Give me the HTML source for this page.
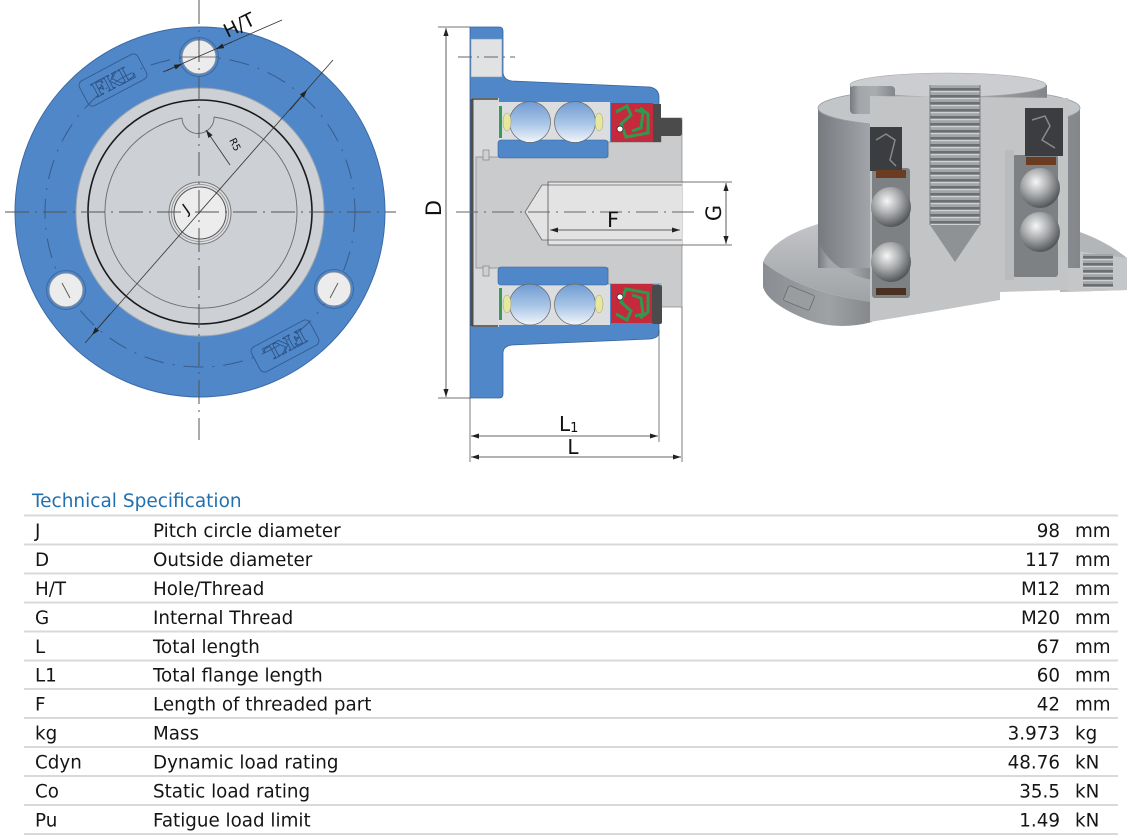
<!DOCTYPE html>
<html><head><meta charset="utf-8">
<style>
html,body{margin:0;padding:0;background:#fff;}
svg{display:block;}
.t{font-family:"DejaVu Sans","Liberation Sans",sans-serif;font-size:18.3px;fill:#151515;}
.d{font-family:"DejaVu Sans","Liberation Sans",sans-serif;fill:#111;}
</style></head><body>
<svg width="1134" height="839" viewBox="0 0 1134 839" xmlns="http://www.w3.org/2000/svg">
<defs>
<marker id="a" viewBox="0 0 10 10" refX="10" refY="5" markerUnits="userSpaceOnUse" markerWidth="8" markerHeight="8" orient="auto-start-reverse"><path d="M0,1.8 L10,5 L0,8.2 z" fill="#222"/></marker>
<linearGradient id="ball" x1="0" y1="0" x2="0" y2="1"><stop offset="0" stop-color="#6f9bd2"/><stop offset=".55" stop-color="#abc7e7"/><stop offset="1" stop-color="#f2f6fb"/></linearGradient>
<linearGradient id="gBody" x1="0" y1="0" x2="1" y2="0"><stop offset="0" stop-color="#777a7e"/><stop offset=".2" stop-color="#a2a5a9"/><stop offset=".55" stop-color="#aaadb0"/><stop offset="1" stop-color="#83868a"/></linearGradient>
<linearGradient id="gTop" x1="0" y1="0" x2="0" y2="1"><stop offset="0" stop-color="#c4c6c9"/><stop offset="1" stop-color="#a0a3a6"/></linearGradient>
<linearGradient id="gRim" x1="0" y1="0" x2="1" y2="0"><stop offset="0" stop-color="#8a8d91"/><stop offset=".6" stop-color="#9fa2a5"/><stop offset="1" stop-color="#85888b"/></linearGradient>
<radialGradient id="gBall" cx=".4" cy=".35" r=".65"><stop offset="0" stop-color="#f6f6f6"/><stop offset=".5" stop-color="#a9abad"/><stop offset="1" stop-color="#55585b"/></radialGradient>
<pattern id="thr" width="10" height="7" patternUnits="userSpaceOnUse"><rect width="10" height="7" fill="#a3a6a9"/><rect y="4" width="10" height="2.5" fill="#6c6f72"/><rect y="0" width="10" height="1.2" fill="#cfd1d3"/></pattern>
</defs>

<!-- ============ FRONT VIEW ============ -->
<g>
<circle cx="200" cy="212" r="185" fill="#5087c8" stroke="#3a6aa8"/>
<circle cx="200" cy="212" r="155" fill="none" stroke="#2f4d74" stroke-width="1" stroke-dasharray="20 9 2 9" opacity=".75"/>
<g transform="translate(113,80) rotate(-28)">
<rect x="-33" y="-14" width="66" height="28" rx="5" fill="none" stroke="#2f5a92" stroke-width=".9"/>
<text x="0" y="8" text-anchor="middle" font-family="Liberation Serif,serif" font-size="22" font-weight="bold" fill="none" stroke="#2a4f80" stroke-width=".8">FKL</text>
</g>
<g transform="translate(285,346) rotate(152)">
<rect x="-33" y="-14" width="66" height="28" rx="5" fill="none" stroke="#2f5a92" stroke-width=".9"/>
<text x="0" y="8" text-anchor="middle" font-family="Liberation Serif,serif" font-size="22" font-weight="bold" fill="none" stroke="#2a4f80" stroke-width=".8">FKL</text>
</g>
<circle cx="200" cy="212" r="124" fill="#cdd0d4" stroke="#9aa3ad"/>
<circle cx="200" cy="212" r="112" fill="none" stroke="#1a1a1a" stroke-width="1.6"/>
<path d="M182,118 A96,96 0 1 0 214,117" fill="none" stroke="#6a6a6a" stroke-width=".9"/>
<path d="M182,118 A16,16 0 0 0 214,117" fill="none" stroke="#6a6a6a" stroke-width=".9"/>
<g fill="none" stroke="#3c6aa4" stroke-width="1"><circle cx="199" cy="57" r="19.5"/><circle cx="66" cy="290" r="19.5"/><circle cx="334" cy="289" r="19.5"/></g>
<g fill="#ececec" stroke="#7c8b9c"><circle cx="199" cy="57" r="17"/><circle cx="66" cy="290" r="17"/><circle cx="334" cy="289" r="17"/></g>
<line x1="62" y1="283" x2="70" y2="298" stroke="#555" stroke-width=".9"/>
<line x1="338" y1="283" x2="330" y2="298" stroke="#555" stroke-width=".9"/>
<line x1="180" y1="57" x2="218" y2="57" stroke="#555" stroke-width=".8"/>
<circle cx="200" cy="213" r="31" fill="#dcdee1" stroke="#777"/>
<circle cx="200" cy="213" r="28.5" fill="none" stroke="#888" stroke-width=".8"/>
<circle cx="200" cy="213" r="26" fill="#ececec" stroke="#555"/>
<line x1="199" y1="0" x2="199" y2="440" stroke="#555" stroke-width="1" stroke-dasharray="24 6 2 6"/>
<line x1="5" y1="212" x2="396" y2="212" stroke="#555" stroke-width="1" stroke-dasharray="24 6 2 6"/>
<line x1="85" y1="343" x2="333" y2="60" stroke="#333" stroke-width=".8"/>
<line x1="110" y1="314" x2="92" y2="335" stroke="#333" stroke-width=".8" marker-end="url(#a)"/>
<line x1="290" y1="110" x2="307" y2="90" stroke="#333" stroke-width=".8" marker-end="url(#a)"/>
<text transform="translate(189,213) rotate(-35)" class="d" font-size="15" text-anchor="middle">J</text>
<line x1="163" y1="72" x2="282" y2="20" stroke="#333" stroke-width=".8"/>
<line x1="166" y1="71" x2="182" y2="64" stroke="#333" stroke-width=".8" marker-end="url(#a)"/>
<line x1="232" y1="42" x2="216" y2="49" stroke="#333" stroke-width=".8" marker-end="url(#a)"/>
<text transform="translate(242,31) rotate(-26)" class="d" font-size="19" text-anchor="middle">H/T</text>
<line x1="230" y1="165" x2="206" y2="130" stroke="#333" stroke-width=".8" marker-end="url(#a)"/>
<text transform="translate(232,146) rotate(63)" class="d" font-size="10" text-anchor="middle">R5</text>
</g>

<!-- ============ SECTION VIEW ============ -->
<g>
<path d="M470,27 L499,27 Q503,27 503,31 L503,73 Q504,80 512,81 L650,87 Q659,89 659,97 L659,332 Q659,338 650,339 L512,345 Q504,346 503,352 L503,394 Q503,398 499,398 L470,398 Z" fill="#5087c8" stroke="#35639c" stroke-width=".8"/>
<rect x="471" y="39" width="31" height="38" fill="#e1e2e3" stroke="#8a9aae" stroke-width=".6"/>
<line x1="458" y1="57" x2="515" y2="57" stroke="#666" stroke-width=".9" stroke-dasharray="14 5 2 5"/>
<rect x="472" y="98" width="27" height="229" fill="#d8d9da"/>
<rect x="470.5" y="99" width="3" height="227" fill="#4e4e4e"/>
<line x1="472" y1="99" x2="498" y2="99" stroke="#444" stroke-width="1.5"/>
<line x1="472" y1="326" x2="498" y2="326" stroke="#444" stroke-width="1.5"/>
<rect x="498" y="102" width="112" height="40" fill="#dcdddf"/>
<rect x="498" y="284" width="112" height="41" fill="#dcdddf"/>
<path d="M476,157 L608,157 L608,142 L661,142 L661,118 L682,118 L682,307 L661,307 L661,284 L608,284 L608,268 L476,268 Z" fill="#cacbcd" stroke="#888" stroke-width=".7"/>
<rect x="483" y="150" width="6" height="10" fill="#d0d0d0" stroke="#777" stroke-width=".6"/>
<rect x="483" y="266" width="6" height="10" fill="#d0d0d0" stroke="#777" stroke-width=".6"/>
<rect x="498" y="140" width="110" height="18" rx="3" fill="#5087c8" stroke="#35639c" stroke-width=".6"/>
<rect x="498" y="267" width="110" height="18" rx="3" fill="#5087c8" stroke="#35639c" stroke-width=".6"/>
<g fill="url(#ball)" stroke="#666" stroke-width=".7">
<circle cx="530" cy="122" r="20.5"/><circle cx="575" cy="122" r="20.5"/>
<circle cx="530" cy="304.5" r="20.5"/><circle cx="575" cy="304.5" r="20.5"/>
</g>
<g fill="#e8e89a" stroke="#999" stroke-width=".5">
<ellipse cx="507" cy="122" rx="4" ry="9"/><ellipse cx="599" cy="122" rx="4" ry="9"/>
<ellipse cx="507" cy="304" rx="4" ry="9"/><ellipse cx="599" cy="304" rx="4" ry="9"/>
</g>
<rect x="499" y="106" width="3" height="32" fill="#3a9a55"/>
<rect x="499" y="288" width="3" height="32" fill="#3a9a55"/>
<g id="seal">
<rect x="611" y="103" width="42" height="39" fill="#c42a3c"/>
<path d="M616,112 L627,106 L631,115 L621,124 L626,137 L648,133 L648,114 L640,108 M635,110 L643,112 L641,128 L632,131" fill="none" stroke="#2e9a50" stroke-width="3"/>
<circle cx="620" cy="129" r="3" fill="#fff" stroke="#222" stroke-width=".7"/>
</g>
<use href="#seal" transform="translate(0,426) scale(1,-1)"/>
<path d="M653,104 L661,104 L661,118 L680,118 Q682,118 682,121 L682,133 Q682,136 679,136 L661,136 L661,142 L653,142 Z" fill="#4b4b4b"/>
<rect x="652" y="285" width="10" height="39" rx="2" fill="#4b4b4b"/>
<rect x="548" y="182" width="134" height="63" fill="#e3e3e3"/>
<path d="M548,185 L542,185 L525,212 L542,240 L548,240 Z" fill="#e3e3e3"/>
<path d="M682,185 L542,185 L525,212 L542,240 L682,240" fill="none" stroke="#666" stroke-width=".8"/>
<path d="M682,182 L548,182 L548,245 L682,245" fill="none" stroke="#555" stroke-width=".8"/>
<line x1="456" y1="212" x2="700" y2="212" stroke="#666" stroke-width=".9" stroke-dasharray="22 6 2 6"/>
<line x1="438" y1="27" x2="470" y2="27" stroke="#444" stroke-width=".7"/>
<line x1="438" y1="398" x2="470" y2="398" stroke="#444" stroke-width=".7"/>
<line x1="446" y1="28" x2="446" y2="397" stroke="#333" stroke-width=".8" marker-start="url(#a)" marker-end="url(#a)"/>
<text transform="translate(441,208) rotate(-90)" class="d" font-size="21" text-anchor="middle">D</text>
<line x1="550" y1="230" x2="680" y2="230" stroke="#333" stroke-width=".8" marker-start="url(#a)" marker-end="url(#a)"/>
<text x="613" y="227" class="d" font-size="21" text-anchor="middle">F</text>
<line x1="682" y1="182" x2="732" y2="182" stroke="#444" stroke-width=".7"/>
<line x1="682" y1="245" x2="732" y2="245" stroke="#444" stroke-width=".7"/>
<line x1="726" y1="183" x2="726" y2="244" stroke="#333" stroke-width=".8" marker-start="url(#a)" marker-end="url(#a)"/>
<text transform="translate(721,213) rotate(-90)" class="d" font-size="21" text-anchor="middle">G</text>
<line x1="470" y1="398" x2="470" y2="462" stroke="#444" stroke-width=".7"/>
<line x1="659" y1="330" x2="659" y2="442" stroke="#444" stroke-width=".7"/>
<line x1="682" y1="307" x2="682" y2="462" stroke="#444" stroke-width=".7"/>
<line x1="471" y1="436" x2="658" y2="436" stroke="#333" stroke-width=".8" marker-start="url(#a)" marker-end="url(#a)"/>
<line x1="471" y1="457" x2="681" y2="457" stroke="#333" stroke-width=".8" marker-start="url(#a)" marker-end="url(#a)"/>
<text x="559" y="431" class="d" font-size="20">L<tspan font-size="13" dy="1">1</tspan></text>
<text x="573" y="454" class="d" font-size="20" text-anchor="middle">L</text>
</g>

<!-- ============ 3D VIEW ============ -->
<g>
<!-- left flange: top surface and rim -->
<path d="M763,262 Q772,238 818,224 L872,220 L872,302 Q800,292 763,262 Z" fill="url(#gTop)"/>
<path d="M763,262 Q800,292 872,302 L872,322 Q838,331 808,320 Q768,304 763,287 Z" fill="url(#gRim)"/>
<rect x="785" y="290" width="28" height="16" rx="2" transform="rotate(22 799 298)" fill="#9a9da0" stroke="#6a6d70" stroke-width=".8"/>
<!-- right flange -->
<path d="M1060,226 Q1100,236 1127,258 L1127,290 L1060,292 Z" fill="#b3b6b9"/>
<path d="M1068,250 L1127,258 L1127,290 L1068,292 Z" fill="#c4c6c8"/>
<rect x="1083" y="254" width="30" height="34" fill="url(#thr)"/>
<!-- body -->
<rect x="818" y="108" width="262" height="160" fill="url(#gBody)"/>
<path d="M818,240 Q830,272 872,280 L872,268 L818,268 Z" fill="url(#gBody)"/>
<ellipse cx="949" cy="108" rx="131" ry="20" fill="#c3c6c9" stroke="#9a9da0" stroke-width=".8"/>
<rect x="850" y="85" width="197" height="16" fill="url(#gBody)"/>
<ellipse cx="948" cy="85" rx="98" ry="12" fill="#cbcdd0" stroke="#a3a6a9" stroke-width=".6"/>
<rect x="850" y="86" width="45" height="28" rx="4" fill="url(#gBody)"/>
<!-- cut face -->
<path d="M870,96 L1068,98 L1068,290 L1000,292 L1000,300 L930,312 L870,322 Z" fill="#c2c4c6"/>
<!-- left bearing -->
<rect x="872" y="168" width="38" height="130" rx="3" fill="#7e8184"/>
<rect x="870" y="127" width="32" height="44" fill="#3b3d40"/>
<path d="M876,140 L886,134 L895,140 L890,160 L896,166" fill="none" stroke="#888" stroke-width="1.5"/>
<rect x="876" y="170" width="30" height="8" fill="#6b3b22"/>
<rect x="876" y="288" width="30" height="7" fill="#4a3022"/>
<circle cx="891" cy="207" r="20" fill="url(#gBall)"/>
<circle cx="891" cy="262" r="20" fill="url(#gBall)"/>
<!-- thread -->
<rect x="930" y="85" width="50" height="140" fill="url(#thr)"/>
<path d="M930,225 L980,225 L955,262 Z" fill="#8f9295"/>
<line x1="930" y1="85" x2="930" y2="225" stroke="#7a7d80"/>
<line x1="980" y1="85" x2="980" y2="225" stroke="#7a7d80"/>
<!-- right bearing -->
<rect x="1012" y="155" width="46" height="122" rx="3" fill="#7e8184"/>
<rect x="1025" y="108" width="38" height="48" fill="#3b3d40"/>
<path d="M1032,120 L1045,116 L1050,126 L1042,140 L1055,148" fill="none" stroke="#8a8a8a" stroke-width="1.5"/>
<rect x="1026" y="157" width="30" height="8" fill="#6b3b22"/>
<circle cx="1040" cy="188" r="20" fill="url(#gBall)"/>
<circle cx="1040" cy="232" r="20" fill="url(#gBall)"/>
<rect x="1005" y="150" width="9" height="130" fill="#b9bbbd"/>
</g>

<!-- ============ TABLE ============ -->
<text x="32" y="507" font-family="DejaVu Sans, Liberation Sans, sans-serif" font-size="18.5" fill="#2171b0">Technical Specification</text>
<g stroke="#d9d9d9" stroke-width="2">
<line x1="24" y1="515.5" x2="1118" y2="515.5"/>
<line x1="24" y1="544.5" x2="1118" y2="544.5"/>
<line x1="24" y1="573.5" x2="1118" y2="573.5"/>
<line x1="24" y1="602.5" x2="1118" y2="602.5"/>
<line x1="24" y1="631.5" x2="1118" y2="631.5"/>
<line x1="24" y1="660.5" x2="1118" y2="660.5"/>
<line x1="24" y1="689" x2="1118" y2="689"/>
<line x1="24" y1="718" x2="1118" y2="718"/>
<line x1="24" y1="747" x2="1118" y2="747"/>
<line x1="24" y1="776" x2="1118" y2="776"/>
<line x1="24" y1="805" x2="1118" y2="805"/>
<line x1="24" y1="834" x2="1118" y2="834"/>
</g>
<g class="t">
<text x="35" y="537">J</text><text x="153" y="537">Pitch circle diameter</text><text x="1060" y="537" text-anchor="end">98</text><text x="1075" y="537">mm</text>
<text x="35" y="566">D</text><text x="153" y="566">Outside diameter</text><text x="1060" y="566" text-anchor="end">117</text><text x="1075" y="566">mm</text>
<text x="35" y="595">H/T</text><text x="153" y="595">Hole/Thread</text><text x="1060" y="595" text-anchor="end">M12</text><text x="1075" y="595">mm</text>
<text x="35" y="624">G</text><text x="153" y="624">Internal Thread</text><text x="1060" y="624" text-anchor="end">M20</text><text x="1075" y="624">mm</text>
<text x="35" y="653">L</text><text x="153" y="653">Total length</text><text x="1060" y="653" text-anchor="end">67</text><text x="1075" y="653">mm</text>
<text x="35" y="681.5">L1</text><text x="153" y="681.5">Total flange length</text><text x="1060" y="681.5" text-anchor="end">60</text><text x="1075" y="681.5">mm</text>
<text x="35" y="710.5">F</text><text x="153" y="710.5">Length of threaded part</text><text x="1060" y="710.5" text-anchor="end">42</text><text x="1075" y="710.5">mm</text>
<text x="35" y="739.5">kg</text><text x="153" y="739.5">Mass</text><text x="1060" y="739.5" text-anchor="end">3.973</text><text x="1075" y="739.5">kg</text>
<text x="35" y="768.5">Cdyn</text><text x="153" y="768.5">Dynamic load rating</text><text x="1060" y="768.5" text-anchor="end">48.76</text><text x="1075" y="768.5">kN</text>
<text x="35" y="797.5">Co</text><text x="153" y="797.5">Static load rating</text><text x="1060" y="797.5" text-anchor="end">35.5</text><text x="1075" y="797.5">kN</text>
<text x="35" y="826.5">Pu</text><text x="153" y="826.5">Fatigue load limit</text><text x="1060" y="826.5" text-anchor="end">1.49</text><text x="1075" y="826.5">kN</text>
</g>
</svg>
</body></html>
